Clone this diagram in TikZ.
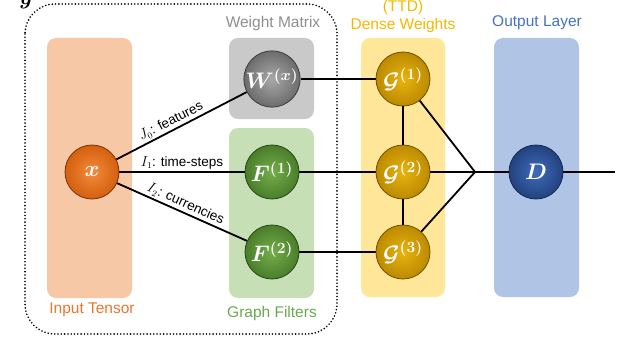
\documentclass[tikz,border=0pt]{standalone}
\usepackage{fontspec}
\setmainfont{Liberation Sans}
\usepackage{bm}
\usepackage{graphicx}
\usetikzlibrary{calc}
\newcommand{\ballmath}[1]{\scalebox{1.3}{$#1$}}
\definecolor{orbox}{HTML}{F7C8A6}
\definecolor{ortxt}{HTML}{E8762D}
\definecolor{grbox}{HTML}{C9C9C9}
\definecolor{grtxt}{HTML}{8E8E8E}
\definecolor{gnbox}{HTML}{C6DFB5}
\definecolor{gntxt}{HTML}{6AA84F}
\definecolor{ylbox}{HTML}{FFE699}
\definecolor{yltxt}{HTML}{F5B800}
\definecolor{blbox}{HTML}{B0C4E6}
\definecolor{bltxt}{HTML}{4472C4}
\definecolor{orin}{HTML}{F58A3C}\definecolor{orout}{HTML}{D2600F}\definecolor{oredge}{HTML}{7A3307}
\definecolor{grin}{HTML}{A8A8A8}\definecolor{grout}{HTML}{6C6C6C}\definecolor{gredge}{HTML}{3C3C3C}
\definecolor{gnin}{HTML}{74AE4A}\definecolor{gnout}{HTML}{4A7D2A}\definecolor{gnedge}{HTML}{28461A}
\definecolor{ylin}{HTML}{E8B410}\definecolor{ylout}{HTML}{BC8A00}\definecolor{yledge}{HTML}{6E5000}
\definecolor{blin}{HTML}{3F6CBA}\definecolor{blout}{HTML}{22427F}\definecolor{bledge}{HTML}{15284F}
\begin{document}
\begin{tikzpicture}[x=1pt,y=-1pt,
  panel/.style={fill=#1, draw=none, rounded corners=9pt},
  ptitle/.style={font=\fontsize{15.5}{17}\selectfont, text=#1, inner sep=0pt},
  ball/.style={circle, minimum size=54pt, inner sep=0pt, shading=radial,
     inner color=#1in, outer color=#1out, draw=#1edge, line width=0.8pt, text=white,
     font=\fontsize{17}{19}\selectfont\boldmath},
  conn/.style={line width=1.8pt, black},
  elabel/.style={font=\fontsize{13.5}{15}\selectfont, inner sep=2pt}
]
\useasboundingbox (0,0) rectangle (640,361);
% panels
\fill[panel=orbox] (47,38) rectangle (132,298);
\fill[panel=grbox] (229,38) rectangle (314,119);
\fill[panel=gnbox] (229,128) rectangle (314,298);
\fill[panel=ylbox] (361,38) rectangle (445,297);
\fill[panel=blbox] (494,38) rectangle (579,297);
% dotted frame
\draw[line width=1.8pt, dash pattern=on 0pt off 3.3pt, line cap=round, rounded corners=30pt]
  (25,4) rectangle (337,334);
% titles
\node[ptitle=ortxt] (tin) at (92,310) {Input Tensor};
\node[ptitle=grtxt] (twm) at (273,23) {Weight Matrix};
\node[ptitle=gntxt] (tgf) at (272,313) {Graph Filters};
\node[ptitle=yltxt] (ttd) at (403,7) {(TTD)};
\node[ptitle=yltxt] (tdw) at (403,25) {Dense Weights};
\node[ptitle=bltxt] (tol) at (537,23) {Output Layer};
\node[font=\fontsize{17}{19}\selectfont\boldmath, inner sep=0pt] (ylab) at (26,2) {\ballmath{\bm{y}}};
% nodes
\node[ball=or] (x) at (92,172) {\ballmath{\bm{x}}};
\node[ball=gr] (W) at (272,79) {\ballmath{\bm{W}^{(\bm{x})}}};
\node[ball=gn] (F1) at (272,172) {\ballmath{\bm{F}^{(\bm{1})}}};
\node[ball=gn] (F2) at (272,252) {\ballmath{\bm{F}^{(\bm{2})}}};
\node[ball=yl] (G1) at (403,79) {\ballmath{\bm{\mathcal{G}}^{(\bm{1})}}};
\node[ball=yl] (G2) at (403,172) {\ballmath{\bm{\mathcal{G}}^{(\bm{2})}}};
\node[ball=yl] (G3) at (403,252) {\ballmath{\bm{\mathcal{G}}^{(\bm{3})}}};
\node[ball=bl] (D) at (536,172) {\ballmath{\bm{D}}};
\coordinate (J) at (475,172);
\coordinate (out) at (615,172);
% connectors
\draw[conn] (x) -- node[elabel, sloped, above, pos=0.45] {$J_0$: features} (W);
\draw[conn] (x) -- node[elabel, above, pos=0.5] {$I_1$: time-steps} (F1);
\draw[conn] (x) -- node[elabel, sloped, above, pos=0.5] {$I_2$: currencies} (F2);
\draw[conn] (W) -- (G1);
\draw[conn] (F1) -- (G2);
\draw[conn] (F2) -- (G3);
\draw[conn] (G1) -- (G2);
\draw[conn] (G2) -- (G3);
\draw[conn] (G1) -- (J);
\draw[conn] (G2) -- (J);
\draw[conn] (G3) -- (J);
\draw[conn] (J) -- (D);
\draw[conn] (D) -- (out);
\end{tikzpicture}
\end{document}
